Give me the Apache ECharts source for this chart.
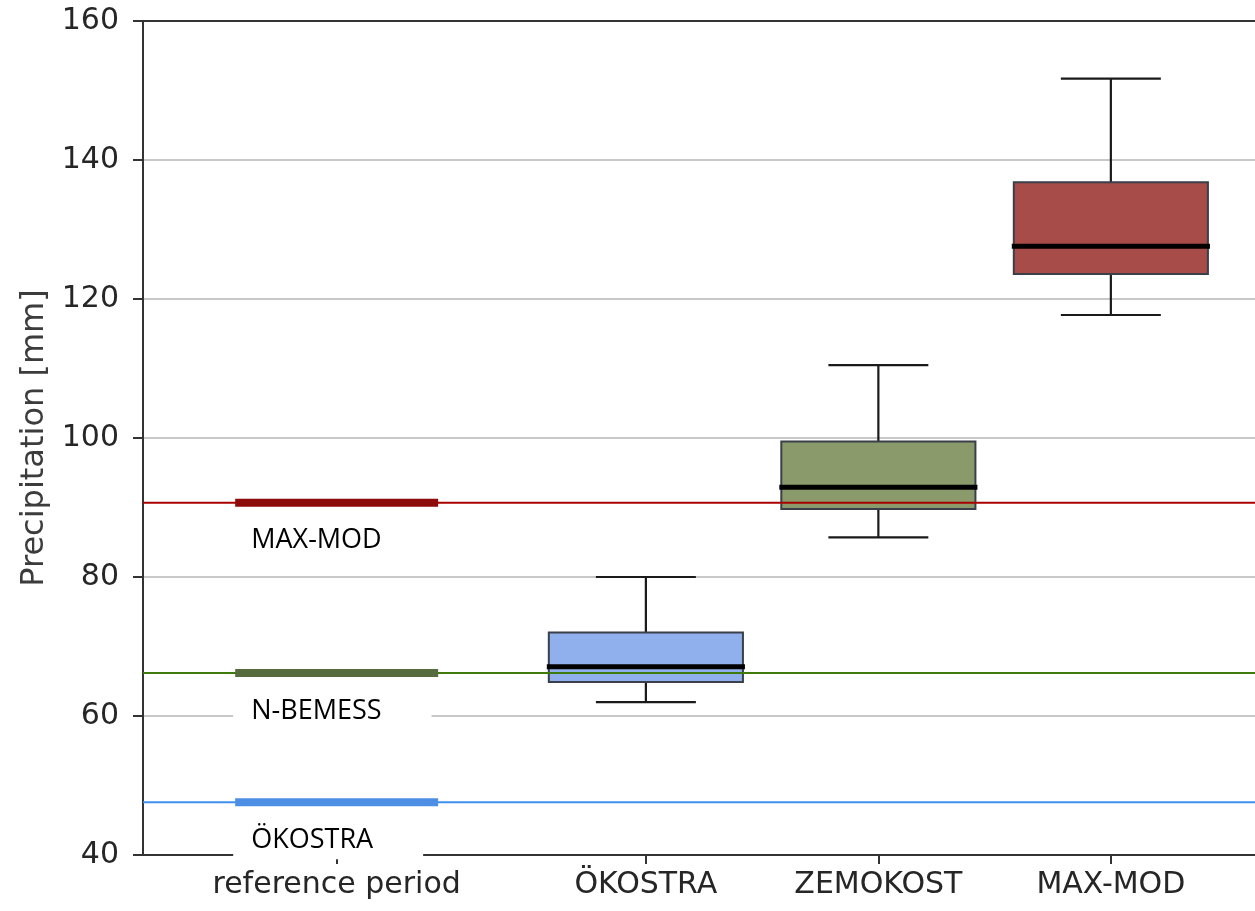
<!DOCTYPE html>
<html>
<head>
<meta charset="utf-8">
<script src="https://cdn.jsdelivr.net/npm/echarts@6/dist/echarts.min.js"></script>
<style>
  html, body { margin: 0; padding: 0; background: #fff; }
  #chart { width: 1255px; height: 911px; }
</style>
</head>
<body>
<div id="chart"></div>
<script>
// Axis categories and where they sit on the x scale
const categories = ['reference period', 'ÖKOSTRA', 'ZEMOKOST', 'MAX-MOD'];
const positions = [0.67, 2, 3, 4];

// Box statistics for the three methods (mm)
const boxNames = ['ÖKOSTRA', 'ZEMOKOST', 'MAX-MOD'];
const whiskerLow = [62.0, 85.7, 117.7];
const quartile1 = [64.9, 89.8, 123.6];
const medians = [67.1, 92.9, 127.6];
const quartile3 = [72.0, 99.5, 136.8];
const whiskerHigh = [80.0, 110.5, 151.7];

// Reference-period design values (mm)
const refNames = ['MAX-MOD', 'N-BEMESS', 'ÖKOSTRA'];
const refValues = [90.7, 66.2, 47.6];

// y-axis range and ticks
const yMin = 40, yMax = 160, yStep = 20;

// styling
const boxFill = ['#8fb0ec', '#8a9a6a', '#a84c4a'];
const refThin = ['#a80000', '#3f7a0c', '#3f90f0'];
const refThick = ['#8c0b0b', '#566b3e', '#4c8fe4'];
const BOX_W = 0.835, CAP_W = 0.43, REF_W = 0.873;

const refPos = positions[0];
const boxData = boxNames.map((n, i) => [positions[i + 1], whiskerLow[i], quartile1[i], medians[i], quartile3[i], whiskerHigh[i], i]);
const refData = refNames.map((n, i) => [refPos, refValues[i], i]);

function renderBox(params, api) {
  const x = api.value(0);
  const idx = api.value(6);
  const pLow = api.coord([x, api.value(1)]);
  const pQ1 = api.coord([x, api.value(2)]);
  const pMed = api.coord([x, api.value(3)]);
  const pQ3 = api.coord([x, api.value(4)]);
  const pHigh = api.coord([x, api.value(5)]);
  const hb = api.size([BOX_W, 0])[0] / 2;
  const hc = api.size([CAP_W, 0])[0] / 2;
  const cx = pMed[0];
  const line = { stroke: '#1a1a1a', lineWidth: 2.2 };
  return {
    type: 'group',
    children: [
      { type: 'line', shape: { x1: cx, y1: pQ3[1], x2: cx, y2: pHigh[1] }, style: line },
      { type: 'line', shape: { x1: cx, y1: pQ1[1], x2: cx, y2: pLow[1] }, style: line },
      { type: 'line', shape: { x1: cx - hc, y1: pHigh[1], x2: cx + hc, y2: pHigh[1] }, style: line },
      { type: 'line', shape: { x1: cx - hc, y1: pLow[1], x2: cx + hc, y2: pLow[1] }, style: line },
      { type: 'rect', shape: { x: cx - hb, y: pQ3[1], width: 2 * hb, height: pQ1[1] - pQ3[1] },
        style: { fill: boxFill[idx], stroke: '#3a3f4a', lineWidth: 2 } },
      { type: 'line', shape: { x1: cx - hb - 2, y1: pMed[1], x2: cx + hb + 2, y2: pMed[1] },
        style: { stroke: '#000', lineWidth: 5 } }
    ]
  };
}

function renderRef(params, api) {
  const x = api.value(0);
  const idx = api.value(2);
  const cs = params.coordSys;
  const pL = api.coord([x - REF_W / 2, api.value(1)]);
  const pR = api.coord([x + REF_W / 2, api.value(1)]);
  const y = pL[1];
  return {
    type: 'group',
    children: [
      { type: 'line', shape: { x1: cs.x, y1: y, x2: cs.x + cs.width, y2: y },
        style: { stroke: refThin[idx], lineWidth: 2 } },
      { type: 'line', shape: { x1: pL[0], y1: y, x2: pR[0], y2: y },
        style: { stroke: refThick[idx], lineWidth: 8 } },
      { type: 'text', x: pL[0] - 2, y: y + 6,
        style: {
          text: refNames[idx], fill: '#000',
          font: '27px "Open Sans"', lineHeight: 30,
          verticalAlign: 'top', align: 'left',
          backgroundColor: '#fff', padding: [17, 50, 4, 18]
        } }
    ]
  };
}

const chart = echarts.init(document.getElementById('chart'));
const xMin = -0.163, xMax = 4.62;
chart.setOption({
  animation: false,
  grid: { left: 143, right: 0, top: 21, bottom: 56 },
  xAxis: [{
    type: 'value', min: xMin, max: xMax,
    splitLine: { show: false },
    axisLine: { show: true, onZero: false, lineStyle: { color: '#333', width: 2 } },
    axisTick: { show: true, customValues: positions, length: 9, lineStyle: { color: '#333', width: 2 } },
    axisLabel: {
      customValues: positions, margin: 15,
      color: '#262626', fontFamily: 'DejaVu Sans', fontSize: 30,
      formatter: v => {
        const i = positions.findIndex(p => Math.abs(p - v) < 1e-6);
        return i >= 0 ? categories[i] : '';
      }
    }
  }, {
    type: 'value', position: 'top', min: xMin, max: xMax,
    splitLine: { show: false }, axisTick: { show: false }, axisLabel: { show: false },
    axisLine: { show: true, onZero: false, lineStyle: { color: '#333', width: 2 } }
  }],
  yAxis: {
    type: 'value', min: yMin, max: yMax, interval: yStep,
    name: 'Precipitation [mm]', nameLocation: 'middle', nameGap: 92,
    nameTextStyle: { fontFamily: 'DejaVu Sans', fontSize: 32, color: '#3c3c3c' },
    axisLine: { show: true, onZero: false, lineStyle: { color: '#333', width: 2 } },
    axisTick: { show: true, length: 10, lineStyle: { color: '#333', width: 2 } },
    axisLabel: { margin: 24, color: '#262626', fontFamily: 'DejaVu Sans', fontSize: 30 },
    splitLine: { show: true, lineStyle: { color: '#c8c8c8', width: 2 } }
  },
  series: [
    { type: 'custom', name: 'boxes', renderItem: renderBox, data: boxData, z: 3,
      encode: { x: 0, y: [1, 2, 3, 4, 5] } },
    { type: 'custom', name: 'reference', renderItem: renderRef, data: refData, z: 4,
      encode: { x: 0, y: 1 } }
  ]
});
</script>
</body>
</html>
